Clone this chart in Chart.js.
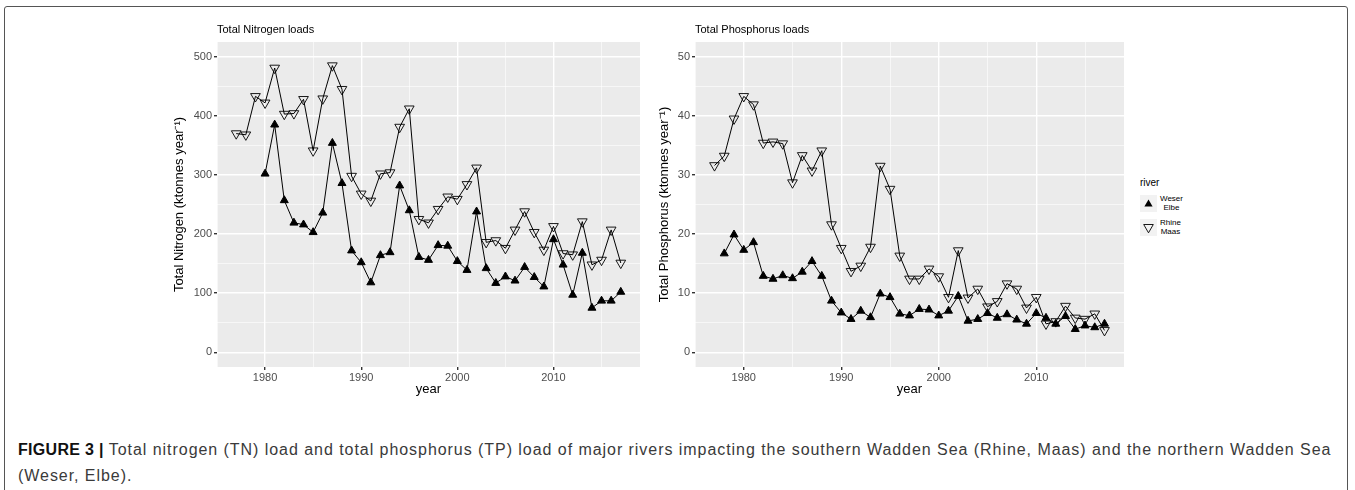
<!DOCTYPE html>
<html>
<head>
<meta charset="utf-8">
<script src="https://cdn.jsdelivr.net/npm/chart.js@4/dist/chart.umd.min.js"></script>
<style>
body { margin: 0; width: 1355px; height: 490px; background: #fff; position: relative; overflow: hidden;
       font-family: "Liberation Sans", Arial, sans-serif; }
#frame { position: absolute; left: 4px; top: 6px; width: 1342px; height: 500px; border: 1.5px solid #555; border-radius: 3px; }
#cN { position: absolute; left: 0; top: 0; }
#cP { position: absolute; left: 650px; top: 0; }
#legend { position: absolute; left: 1140px; top: 177px; font-size: 10px; color: #000; }
#legend .ttl { margin-bottom: 3px; }
#legend .row { display: flex; align-items: center; height: 24px; }
#legend .key { width: 17px; height: 17px; background: #f2f2f2; position: relative; }
#legend .lab { font-size: 8px; line-height: 9px; text-align: center; margin-left: 3px; }
#caption { position: absolute; left: 18px; top: 437px; font-size: 16px; line-height: 26px; color: #3a3a3a;
           letter-spacing: 0.95px; white-space: nowrap; }
#caption b { color: #111; letter-spacing: 0.3px; }
</style>
</head>
<body>
<div id="frame"></div>
<canvas id="cN" width="660" height="400"></canvas>
<canvas id="cP" width="490" height="400"></canvas>
<div id="legend">
  <div class="ttl">river</div>
  <div class="row"><div class="key"><svg width="17" height="17"><polygon points="8.5,4.5 12.6,11.6 4.4,11.6" fill="#000"/></svg></div><div class="lab">Weser<br>Elbe</div></div>
  <div class="row"><div class="key"><svg width="17" height="17"><polygon points="3.7,5.5 13.3,5.5 8.5,13.8" fill="none" stroke="#000" stroke-width="0.9"/></svg></div><div class="lab">Rhine<br>Maas</div></div>
</div>
<div id="caption"><b>FIGURE 3 |</b> Total nitrogen (TN) load and total phosphorus (TP) load of major rivers impacting the southern Wadden Sea (Rhine, Maas) and the northern Wadden Sea<br>(Weser, Elbe).</div>
<script>
// years shown on x
var years = [1977, 1978, 1979, 1980, 1981, 1982, 1983, 1984, 1985, 1986, 1987, 1988, 1989, 1990,
             1991, 1992, 1993, 1994, 1995, 1996, 1997, 1998, 1999, 2000, 2001, 2002, 2003, 2004,
             2005, 2006, 2007, 2008, 2009, 2010, 2011, 2012, 2013, 2014, 2015, 2016, 2017];
var yearTicks = [1980, 1990, 2000, 2010];

// total nitrogen, ktonnes per year
var nRhineMaas = [370, 368, 433, 422, 481, 403, 404, 428, 341, 429, 485, 445, 298, 268,
                  256, 302, 304, 381, 412, 225, 219, 242, 263, 259, 284, 312, 186, 189,
                  176, 207, 238, 203, 173, 213, 167, 165, 221, 148, 156, 207, 151];
var nWeserElbe = [null, null, null, 302, 385, 257, 219, 216, 203, 236, 354, 286, 172, 152,
                  118, 164, 169, 282, 240, 161, 156, 181, 180, 154, 139, 238, 142, 117,
                  128, 121, 144, 127, 111, 191, 148, 97, 168, 75, 87, 87, 102];
var nTicks = [0, 100, 200, 300, 400, 500];

// total phosphorus, ktonnes per year
var pRhineMaas = [31.6, 33.2, 39.5, 43.3, 41.9, 35.4, 35.6, 35.3, 28.7, 33.3, 30.7, 34.1, 21.6, 17.6,
                  13.7, 14.6, 17.8, 31.5, 27.6, 16.3, 12.4, 12.4, 14.1, 12.8, 9.3, 17.2, 9.2, 10.7,
                  7.7, 8.6, 11.6, 10.7, 7.5, 9.3, 4.8, 5.2, 7.8, 5.8, 5.6, 6.5, 3.7];
var pWeserElbe = [null, 16.7, 19.9, 17.3, 18.6, 12.9, 12.4, 13.0, 12.5, 13.6, 15.4, 12.9, 8.7, 6.7,
                  5.6, 7.0, 5.9, 9.9, 9.3, 6.5, 6.2, 7.3, 7.2, 6.2, 7.0, 9.5, 5.3, 5.6,
                  6.6, 5.8, 6.4, 5.5, 4.8, 6.6, 5.8, 4.8, 6.1, 3.9, 4.5, 4.2, 4.8];
var pTicks = [0, 10, 20, 30, 40, 50];

function pts(vals) {
  return years.map(function(y, i) { return {x: y, y: vals[i]}; });
}

// major ticks + the midpoints between them (ggplot minor grid)
function withMinor(major) {
  var step = major[1] - major[0];
  var out = [];
  major.forEach(function(v) { out.push({value: v - step / 2}); out.push({value: v}); });
  out.push({value: major[major.length - 1] + step / 2});
  return out;
}

var panelBg = {
  id: 'panelBg',
  beforeDraw: function(chart) {
    var a = chart.chartArea, ctx = chart.ctx;
    ctx.save();
    ctx.fillStyle = '#ebebeb';
    ctx.fillRect(a.left, a.top, a.right - a.left, a.bottom - a.top);
    ctx.restore();
  },
  afterDraw: function(chart) {
    var a = chart.chartArea, ctx = chart.ctx;
    ctx.save();
    ctx.fillStyle = '#000';
    ctx.font = '11px "Liberation Sans", Arial, sans-serif';
    ctx.textBaseline = 'middle';
    ctx.fillText(chart.options.panelTitle, a.left, 30);
    ctx.restore();
  }
};

function makePanel(id, title, yTitle, rm, we, ticks, yMin, yMax, pad, yWidth) {
  var isMajorY = function(v) { return ticks.indexOf(v) !== -1; };
  var isMajorX = function(v) { return yearTicks.indexOf(v) !== -1; };
  var tickFont = {family: '"Liberation Sans", Arial, sans-serif', size: 11};
  var titleFont = {family: '"Liberation Sans", Arial, sans-serif', size: 13};
  return new Chart(document.getElementById(id), {
    type: 'line',
    data: {
      datasets: [{
        label: 'Weser Elbe',
        data: pts(we),
        borderColor: '#000',
        borderWidth: 1,
        pointStyle: 'triangle',
        pointRadius: 4.6,
        pointBackgroundColor: '#000',
        pointBorderColor: '#000',
        pointBorderWidth: 1
      }, {
        label: 'Rhine Maas',
        data: pts(rm),
        borderColor: '#000',
        borderWidth: 1,
        pointStyle: 'triangle',
        pointRotation: 180,
        pointRadius: 5.6,
        pointBackgroundColor: 'rgba(0,0,0,0)',
        pointBorderColor: '#000',
        pointBorderWidth: 0.9
      }]
    },
    options: {
      panelTitle: title,
      responsive: false,
      devicePixelRatio: 1,
      animation: false,
      layout: {padding: pad},
      plugins: {legend: {display: false}, tooltip: {enabled: false}},
      elements: {line: {tension: 0}},
      scales: {
        x: {
          type: 'linear',
          min: 1975,
          max: 2019,
          afterBuildTicks: function(s) { s.ticks = withMinor(yearTicks); },
          afterFit: function(s) { s.height = 33; },
          grid: {
            color: '#fff',
            lineWidth: function(c) { return isMajorX(c.tick.value) ? 1.4 : 0.6; },
            tickColor: function(c) { return isMajorX(c.tick.value) ? '#333' : 'rgba(0,0,0,0)'; },
            tickLength: 3
          },
          border: {display: false},
          ticks: {
            font: tickFont, color: '#4d4d4d', padding: 1, maxRotation: 0, autoSkip: false,
            callback: function(v) { return isMajorX(v) ? String(v) : ''; }
          },
          title: {display: true, text: 'year', font: titleFont, color: '#000', padding: {top: 0, bottom: 3}}
        },
        y: {
          min: yMin,
          max: yMax,
          afterBuildTicks: function(s) { s.ticks = withMinor(ticks); },
          afterFit: function(s) { s.width = yWidth; },
          grid: {
            color: '#fff',
            lineWidth: function(c) { return isMajorY(c.tick.value) ? 1.4 : 0.6; },
            tickColor: function(c) { return isMajorY(c.tick.value) ? '#333' : 'rgba(0,0,0,0)'; },
            tickLength: 3
          },
          border: {display: false},
          ticks: {
            font: tickFont, color: '#4d4d4d', padding: 2, autoSkip: false,
            callback: function(v) { return isMajorY(v) ? String(v) : ''; }
          },
          title: {display: true, text: yTitle, font: titleFont, color: '#000', padding: {top: 0, bottom: 0}}
        }
      }
    },
    plugins: [panelBg]
  });
}

makePanel('cN', 'Total Nitrogen loads', 'Total Nitrogen (ktonnes year\u207B\u00B9)',
          nRhineMaas, nWeserElbe, nTicks, -25, 525, {left: 172, right: 20, top: 42, bottom: 0}, 45);
makePanel('cP', 'Total Phosphorus loads', 'Total Phosphorus (ktonnes year\u207B\u00B9)',
          pRhineMaas, pWeserElbe, pTicks, -2.5, 52.5, {left: 7, right: 16, top: 42, bottom: 0}, 38);
</script>
</body>
</html>
